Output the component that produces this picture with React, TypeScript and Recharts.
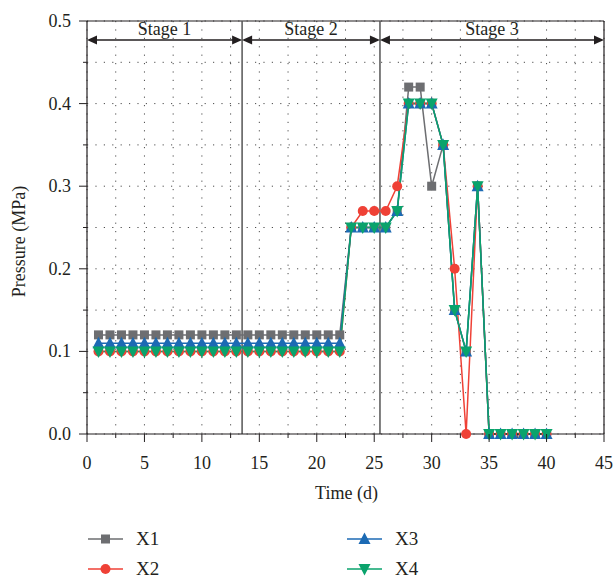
import {
  LineChart,
  Line,
  XAxis,
  YAxis,
  CartesianGrid,
  ReferenceLine,
} from 'recharts';

// Time (d)
const days = [
  1, 2, 3, 4, 5, 6, 7, 8, 9, 10, 11, 12, 13, 14, 15, 16, 17, 18, 19, 20,
  21, 22, 23, 24, 25, 26, 27, 28, 29, 30, 31, 32, 33, 34, 35, 36, 37, 38, 39, 40,
];

// Pressure (MPa) per monitoring point
const x1 = [
  0.12, 0.12, 0.12, 0.12, 0.12, 0.12, 0.12, 0.12, 0.12, 0.12, 0.12, 0.12, 0.12, 0.12, 0.12, 0.12, 0.12, 0.12, 0.12, 0.12,
  0.12, 0.12, 0.25, 0.25, 0.25, 0.25, 0.27, 0.42, 0.42, 0.3, 0.35, 0.15, 0.1, 0.3, 0, 0, 0, 0, 0, 0,
];
const x2 = [
  0.1, 0.1, 0.1, 0.1, 0.1, 0.1, 0.1, 0.1, 0.1, 0.1, 0.1, 0.1, 0.1, 0.1, 0.1, 0.1, 0.1, 0.1, 0.1, 0.1,
  0.1, 0.1, 0.25, 0.27, 0.27, 0.27, 0.3, 0.4, 0.4, 0.4, 0.35, 0.2, 0, 0.3, 0, 0, 0, 0, 0, 0,
];
const x3 = [
  0.11, 0.11, 0.11, 0.11, 0.11, 0.11, 0.11, 0.11, 0.11, 0.11, 0.11, 0.11, 0.11, 0.11, 0.11, 0.11, 0.11, 0.11, 0.11, 0.11,
  0.11, 0.11, 0.25, 0.25, 0.25, 0.25, 0.27, 0.4, 0.4, 0.4, 0.35, 0.15, 0.1, 0.3, 0, 0, 0, 0, 0, 0,
];
const x4 = [
  0.1, 0.1, 0.1, 0.1, 0.1, 0.1, 0.1, 0.1, 0.1, 0.1, 0.1, 0.1, 0.1, 0.1, 0.1, 0.1, 0.1, 0.1, 0.1, 0.1,
  0.1, 0.1, 0.25, 0.25, 0.25, 0.25, 0.27, 0.4, 0.4, 0.4, 0.35, 0.15, 0.1, 0.3, 0, 0, 0, 0, 0, 0,
];

const xTicks = [0, 2.5, 5, 7.5, 10, 12.5, 15, 17.5, 20, 22.5, 25, 27.5, 30, 32.5, 35, 37.5, 40, 42.5, 45];
const yTicks = [0, 0.05, 0.1, 0.15, 0.2, 0.25, 0.3, 0.35, 0.4, 0.45, 0.5];

// stage boundaries and labels
const stageBounds = [0, 13.5, 25.5, 45];
const stageNames = ['Stage 1', 'Stage 2', 'Stage 3'];
const arrowLevel = 0.477;

const data = days.map((d, i) => ({ day: d, X1: x1[i], X2: x2[i], X3: x3[i], X4: x4[i] }));

const FONT = 'Liberation Serif, DejaVu Serif, serif';
const C1 = '#6d6e71';
const C2 = '#ef4136';
const C3 = '#1c6ab4';
const C4 = '#0aa36c';
const AXIS = '#231f20';
const txt = { fontFamily: FONT, fontSize: 18 };

const isMajor = (v: number, step: number) => Math.abs(v / step - Math.round(v / step)) < 1e-6;

const XTick = (props: any) => {
  const { x, y, payload } = props;
  const major = isMajor(payload.value, 5);
  return (
    <g>
      <line x1={x} y1={y} x2={x} y2={y + (major ? 8 : 4)} stroke={AXIS} strokeWidth={1} />
      {major && (
        <text x={x} y={y + 35} textAnchor="middle" style={txt} fill={AXIS}>
          {payload.value}
        </text>
      )}
    </g>
  );
};

const YTick = (props: any) => {
  const { x, y, payload } = props;
  const major = isMajor(payload.value, 0.1);
  return (
    <g>
      <line x1={x} y1={y} x2={x - (major ? 8 : 4)} y2={y} stroke={AXIS} strokeWidth={1} />
      {major && (
        <text x={x - 16} y={y + 6} textAnchor="end" style={txt} fill={AXIS}>
          {payload.value.toFixed(1)}
        </text>
      )}
    </g>
  );
};

const squareDot = (p: any) => (
  <rect key={`s${p.index}`} x={p.cx - 4.5} y={p.cy - 4.5} width={9} height={9} fill={C1} />
);
const circleDot = (p: any) => <circle key={`c${p.index}`} cx={p.cx} cy={p.cy} r={5} fill={C2} />;
const upDot = (p: any) => (
  <polygon
    key={`u${p.index}`}
    points={`${p.cx},${p.cy - 6.5} ${p.cx - 6},${p.cy + 5} ${p.cx + 6},${p.cy + 5}`}
    fill={C3}
  />
);
const downDot = (p: any) => (
  <polygon
    key={`d${p.index}`}
    points={`${p.cx - 6},${p.cy - 5} ${p.cx + 6},${p.cy - 5} ${p.cx},${p.cy + 6.5}`}
    fill={C4}
  />
);

// double-headed arrow with a label above it
const stageArrow = (name: string) => (p: any) => {
  const { x1, y1, x2 } = p;
  const h = 10;
  const w = 4.5;
  return (
    <g>
      <line x1={x1 + 2} y1={y1} x2={x2 - 2} y2={y1} stroke={AXIS} strokeWidth={1.3} />
      <polygon points={`${x1},${y1} ${x1 + h},${y1 - w} ${x1 + h},${y1 + w}`} fill={AXIS} />
      <polygon points={`${x2},${y1} ${x2 - h},${y1 - w} ${x2 - h},${y1 + w}`} fill={AXIS} />
      <text x={(x1 + x2) / 2} y={y1 - 5} textAnchor="middle" style={txt} fill={AXIS}>
        {name}
      </text>
    </g>
  );
};

const legendItems = [
  { name: 'X1', color: C1, kind: 'square', left: 88, top: 539 },
  { name: 'X2', color: C2, kind: 'circle', left: 88, top: 569 },
  { name: 'X3', color: C3, kind: 'up', left: 347, top: 539 },
  { name: 'X4', color: C4, kind: 'down', left: 347, top: 569 },
];

const LegendIcon = ({ color, kind }: { color: string; kind: string }) => (
  <svg width={36} height={16}>
    <line x1={0} y1={8} x2={35} y2={8} stroke={color} strokeWidth={1.5} />
    {kind === 'square' && <rect x={13} y={3.5} width={9} height={9} fill={color} />}
    {kind === 'circle' && <circle cx={17.5} cy={8} r={5} fill={color} />}
    {kind === 'up' && <polygon points="17.5,1.5 11.5,13 23.5,13" fill={color} />}
    {kind === 'down' && <polygon points="11.5,3 23.5,3 17.5,14.5" fill={color} />}
  </svg>
);

export default function App() {
  return (
    <div style={{ position: 'relative', width: 616, height: 580, background: '#fff', fontFamily: FONT }}>
      <style>{`body{margin:0}`}</style>
      <LineChart
        width={616}
        height={580}
        data={data}
        margin={{ top: 21, right: 12, left: 27, bottom: 106 }}
      >
        <CartesianGrid stroke="#4d4d4d" strokeDasharray="1.2 7.2" strokeWidth={1} />
        <XAxis
          dataKey="day"
          type="number"
          domain={[0, 45]}
          ticks={xTicks}
          interval={0}
          height={40}
          tickSize={0}
          tickMargin={0}
          tickLine={false}
          tick={(p: any) => <XTick {...p} />}
          axisLine={{ stroke: AXIS, strokeWidth: 1.2 }}
          label={(p: any) => {
            const vb = p.viewBox;
            return (
              <text x={vb.x + vb.width / 2 + 1} y={vb.y + 65} textAnchor="middle" style={txt} fill={AXIS}>
                Time (d)
              </text>
            );
          }}
        />
        <YAxis
          type="number"
          domain={[0, 0.5]}
          ticks={yTicks}
          interval={0}
          width={60}
          tickSize={0}
          tickMargin={0}
          tickLine={false}
          tick={(p: any) => <YTick {...p} />}
          axisLine={{ stroke: AXIS, strokeWidth: 1.2 }}
          label={(p: any) => {
            const vb = p.viewBox;
            const cy = vb.y + vb.height / 2 + 14;
            return (
              <text
                x={19}
                y={cy}
                transform={`rotate(-90 19 ${cy})`}
                textAnchor="middle"
                dominantBaseline="central"
                style={txt}
                fill={AXIS}
              >
                Pressure (MPa)
              </text>
            );
          }}
        />
        <ReferenceLine y={0.5} stroke={AXIS} strokeWidth={1.2} />
        <ReferenceLine x={45} stroke={AXIS} strokeWidth={1.2} />
        <ReferenceLine x={stageBounds[1]} stroke="#555" strokeWidth={1.5} />
        <ReferenceLine x={stageBounds[2]} stroke="#555" strokeWidth={1.5} />
        {stageNames.map((name, i) => (
          <ReferenceLine
            key={name}
            segment={[
              { x: stageBounds[i], y: arrowLevel },
              { x: stageBounds[i + 1], y: arrowLevel },
            ]}
            shape={stageArrow(name)}
          />
        ))}
        <Line dataKey="X1" stroke={C1} strokeWidth={1.5} dot={squareDot} activeDot={false} isAnimationActive={false} />
        <Line dataKey="X2" stroke={C2} strokeWidth={1.5} dot={circleDot} activeDot={false} isAnimationActive={false} />
        <Line dataKey="X3" stroke={C3} strokeWidth={1.5} dot={upDot} activeDot={false} isAnimationActive={false} />
        <Line dataKey="X4" stroke={C4} strokeWidth={1.5} dot={downDot} activeDot={false} isAnimationActive={false} />
      </LineChart>
      {legendItems.map((it) => (
        <div
          key={it.name}
          style={{
            position: 'absolute',
            left: it.left,
            top: it.top - 10,
            height: 20,
            display: 'flex',
            alignItems: 'center',
            fontFamily: FONT,
            fontSize: 19,
            color: AXIS,
          }}
        >
          <LegendIcon color={it.color} kind={it.kind} />
          <span style={{ marginLeft: 12 }}>{it.name}</span>
        </div>
      ))}
    </div>
  );
}
